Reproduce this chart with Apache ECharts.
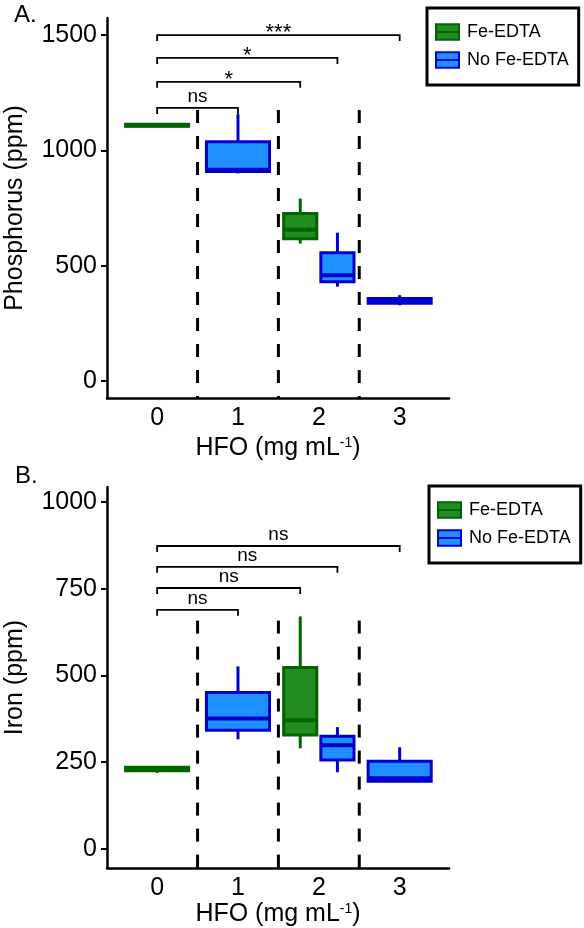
<!DOCTYPE html>
<html>
<head>
<meta charset="utf-8">
<script src="https://cdn.jsdelivr.net/npm/echarts@6/dist/echarts.min.js"></script>
<style>
  html, body { margin: 0; padding: 0; background: #fff; }
  #chart { width: 584px; height: 928px; }
</style>
</head>
<body>
<div id="chart"></div>
<script>
// HFO dose groups (x axis)
const hfoGroups = [0, 1, 2, 3];
const hfoLabels = ['0', '1', '2', '3'];
const dividerX = [0.5, 1.5, 2.5];

// y ticks
const pTicks = [0, 500, 1000, 1500];
const feTicks = [0, 250, 500, 750, 1000];

// Panel A: phosphorus (ppm), boxes as [min, q1, median, q3, max]
const pFeX = [0, 2];
const pFeBox = [[1104, 1105, 1108, 1113, 1115], [596, 617, 656, 726, 791]];
const pNoFeX = [1, 2, 3];
const pNoFeBox = [[900, 908, 916, 1037, 1157], [409, 430, 458, 556, 643], [328, 337, 348, 357, 372]];

// Panel A significance brackets (from group 0 to target)
const pBrTo = [1, 2, 2, 3];
const pBrSeries = ['No Fe-EDTA', 'Fe-EDTA', 'No Fe-EDTA', 'No Fe-EDTA'];
const pBrY = [1184, 1297, 1401, 1500];
const pBrText = ['ns', '*', '*', '***'];
const pDividerTop = 1175;

// Panel B: iron (ppm)
const feFeX = [0, 2];
const feFeBox = [[219, 225, 230, 235, 237], [290, 328, 371, 523, 670]];
const feNoFeX = [1, 2, 3];
const feNoFeBox = [[316, 342, 376, 451, 526], [221, 256, 299, 325, 351], [193, 195, 204, 253, 293]];

const feBrTo = [1, 2, 2, 3];
const feBrSeries = ['No Fe-EDTA', 'Fe-EDTA', 'No Fe-EDTA', 'No Fe-EDTA'];
const feBrY = [689, 752, 813, 873];
const feBrText = ['ns', 'ns', 'ns', 'ns'];
const feDividerTop = 658;

const font = 'Liberation Sans, Arial, Helvetica, sans-serif';
const colors = {
  'Fe-EDTA': { fill: '#228B22', edge: '#006400' },
  'No Fe-EDTA': { fill: '#1E90FF', edge: '#0000CD' }
};

// where a box sits inside its group: full width alone, half width when shared
function boxPlace(group, name, feX, noFeX) {
  const both = feX.includes(group) && noFeX.includes(group);
  if (!both) return { off: 0, w: 0.78 };
  return { off: name === 'Fe-EDTA' ? -0.23 : 0.23, w: 0.41 };
}

function boxSeries(name, xs, boxes, feX, noFeX, idx) {
  const c = colors[name];
  return {
    type: 'custom',
    name: name,
    xAxisIndex: idx,
    yAxisIndex: idx,
    itemStyle: { color: c.fill, borderColor: c.edge },
    data: xs.map((x, i) => [x].concat(boxes[i])),
    renderItem: function (params, api) {
      const g = api.value(0);
      const pl = boxPlace(g, name, feX, noFeX);
      const cx = g + pl.off;
      const pMin = api.coord([cx, api.value(1)]);
      const pQ1 = api.coord([cx, api.value(2)]);
      const pMed = api.coord([cx, api.value(3)]);
      const pQ3 = api.coord([cx, api.value(4)]);
      const pMax = api.coord([cx, api.value(5)]);
      const hw = api.size([pl.w, 0])[0] / 2;
      const ln = { stroke: c.edge, lineWidth: 3 };
      return {
        type: 'group',
        children: [
          { type: 'line', shape: { x1: pMax[0], y1: pMax[1], x2: pQ3[0], y2: pQ3[1] }, style: ln },
          { type: 'line', shape: { x1: pMin[0], y1: pMin[1], x2: pQ1[0], y2: pQ1[1] }, style: ln },
          {
            type: 'rect',
            shape: { x: pQ3[0] - hw, y: pQ3[1], width: hw * 2, height: pQ1[1] - pQ3[1] },
            style: { fill: c.fill, stroke: c.edge, lineWidth: 3 }
          },
          { type: 'line', shape: { x1: pMed[0] - hw, y1: pMed[1], x2: pMed[0] + hw, y2: pMed[1] }, style: { stroke: c.edge, lineWidth: 4 } }
        ]
      };
    }
  };
}

function dividerSeries(top, idx) {
  return {
    type: 'custom',
    xAxisIndex: idx,
    yAxisIndex: idx,
    silent: true,
    data: dividerX.map(x => [x, top]),
    renderItem: function (params, api) {
      const p = api.coord([api.value(0), api.value(1)]);
      const bottom = params.coordSys.y + params.coordSys.height;
      return {
        type: 'line',
        shape: { x1: p[0], y1: p[1], x2: p[0], y2: bottom },
        style: { stroke: '#000', lineWidth: 3, lineDash: [13, 13] }
      };
    }
  };
}

function bracketSeries(to, ser, ys, texts, feX, noFeX, idx) {
  return {
    type: 'custom',
    xAxisIndex: idx,
    yAxisIndex: idx,
    silent: true,
    data: to.map((t, i) => [0, t, ys[i]]),
    renderItem: function (params, api) {
      const i = params.dataIndex;
      const tg = api.value(1);
      const x2 = tg + boxPlace(tg, ser[i], feX, noFeX).off;
      const p1 = api.coord([api.value(0), api.value(2)]);
      const p2 = api.coord([x2, api.value(2)]);
      const star = /^\*+$/.test(texts[i]);
      return {
        type: 'group',
        children: [
          {
            type: 'polyline',
            shape: { points: [[p1[0], p1[1] + 6], p1, p2, [p2[0], p2[1] + 6]] },
            style: { stroke: '#000', lineWidth: 1.8, fill: null }
          },
          {
            type: 'text',
            x: (p1[0] + p2[0]) / 2,
            y: star ? p1[1] + 9 : p1[1] - 2,
            style: {
              text: texts[i], fill: '#000', align: 'center', verticalAlign: 'bottom',
              fontSize: star ? 22 : 19, fontFamily: font
            }
          }
        ]
      };
    }
  };
}

function xAxisCfg(idx, gap) {
  return {
    type: 'value', gridIndex: idx, min: -0.62, max: 3.61,
    name: '{n|HFO (mg mL}{s|-1}{n|)}',
    nameLocation: 'middle', nameGap: gap,
    nameTextStyle: {
      rich: {
        n: { fontSize: 25, color: '#000', fontFamily: font },
        s: { fontSize: 14, color: '#000', fontFamily: font, verticalAlign: 'top' }
      }
    },
    axisLine: { onZero: false, lineStyle: { color: '#000', width: 2.5 } },
    axisTick: { show: false },
    splitLine: { show: false },
    axisLabel: {
      customValues: hfoGroups, fontSize: 25, color: '#000', margin: 8, fontFamily: font,
      formatter: v => hfoLabels[hfoGroups.indexOf(v)]
    }
  };
}

function yAxisCfg(idx, name, min, max, ticks) {
  return {
    type: 'value', gridIndex: idx, min: min, max: max,
    name: name, nameLocation: 'middle', nameGap: 79,
    nameTextStyle: { fontSize: 25, color: '#000', fontFamily: font },
    axisLine: { show: true, onZero: false, lineStyle: { color: '#000', width: 2.5 } },
    axisTick: { show: true, customValues: ticks, length: 6, lineStyle: { color: '#000', width: 2 } },
    axisLabel: {
      customValues: ticks, fontSize: 25, color: '#000', margin: 10, fontFamily: font,
      formatter: v => String(v)
    },
    splitLine: { show: false }
  };
}

function legendCfg(top, left) {
  const iconPath = 'path://M0,0H24V8H0Z M0,8H24V16H0Z';
  return {
    orient: 'vertical', left: left, top: top,
    padding: [15, 10, 16, 8], itemGap: 10, itemWidth: 23, itemHeight: 17,
    borderColor: '#000', borderWidth: 3,
    textStyle: { fontSize: 18, color: '#000', fontFamily: font, padding: [0, 0, 0, 3] },
    selectedMode: false,
    data: ['Fe-EDTA', 'No Fe-EDTA'].map(n => ({
      name: n, icon: iconPath,
      itemStyle: { color: colors[n].fill, borderColor: colors[n].edge, borderWidth: 2 }
    }))
  };
}

const panelTitle = { fontSize: 24, fontWeight: 'normal', color: '#000', fontFamily: font };

const chart = echarts.init(document.getElementById('chart'));
chart.setOption({
  animation: false,
  backgroundColor: '#fff',
  textStyle: { fontFamily: font },
  title: [
    { text: 'A.', left: 14, top: 3, padding: 0, textStyle: panelTitle },
    { text: 'B.', left: 15, top: 464, padding: 0, textStyle: panelTitle }
  ],
  legend: [legendCfg(8, 427), legendCfg(486, 429)],
  grid: [
    { left: 107, top: 18, width: 342, height: 380, outerBoundsMode: 'none' },
    { left: 107, top: 487, width: 342, height: 381, outerBoundsMode: 'none' }
  ],
  xAxis: [xAxisCfg(0, 38), xAxisCfg(1, 34)],
  yAxis: [
    yAxisCfg(0, 'Phosphorus (ppm)', -74, 1574, pTicks),
    yAxisCfg(1, 'Iron (ppm)', -55, 1043, feTicks)
  ],
  series: [
    dividerSeries(pDividerTop, 0),
    bracketSeries(pBrTo, pBrSeries, pBrY, pBrText, pFeX, pNoFeX, 0),
    boxSeries('Fe-EDTA', pFeX, pFeBox, pFeX, pNoFeX, 0),
    boxSeries('No Fe-EDTA', pNoFeX, pNoFeBox, pFeX, pNoFeX, 0),
    dividerSeries(feDividerTop, 1),
    bracketSeries(feBrTo, feBrSeries, feBrY, feBrText, feFeX, feNoFeX, 1),
    boxSeries('Fe-EDTA', feFeX, feFeBox, feFeX, feNoFeX, 1),
    boxSeries('No Fe-EDTA', feNoFeX, feNoFeBox, feFeX, feNoFeX, 1)
  ]
});
window.addEventListener('resize', () => chart.resize());
</script>
</body>
</html>
